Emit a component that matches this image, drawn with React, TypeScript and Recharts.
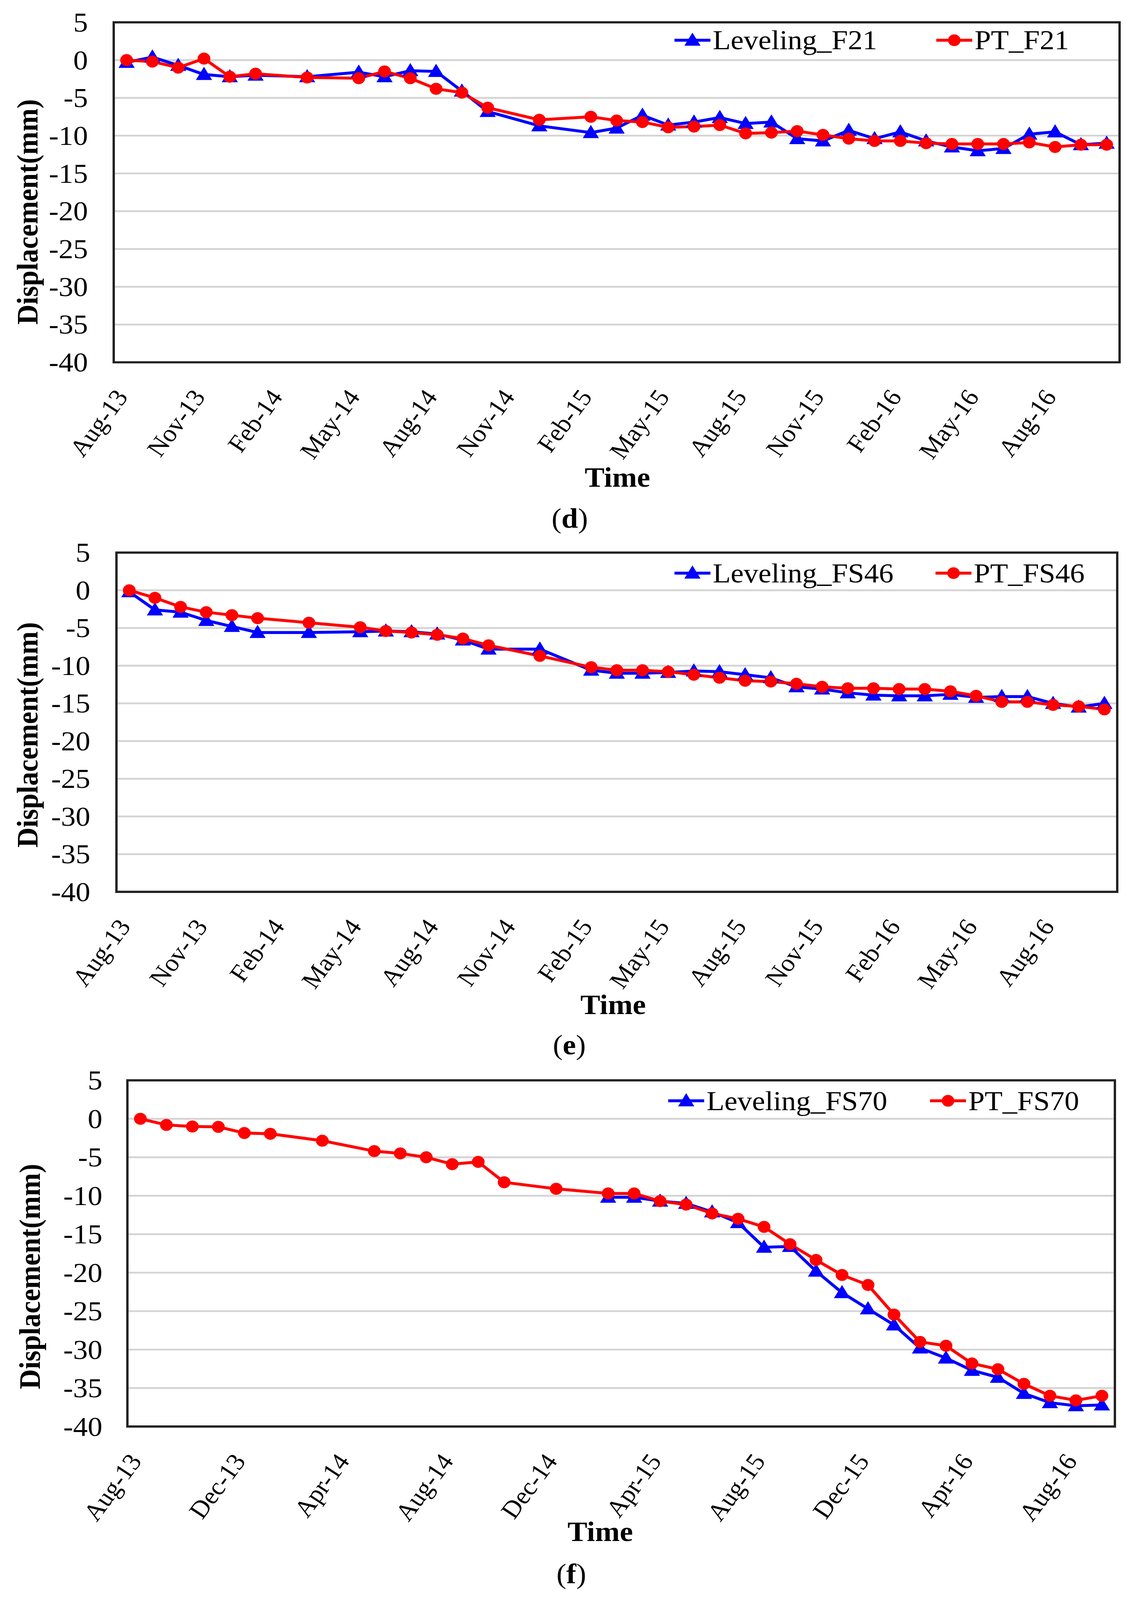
import React from "react";
import { LineChart, Line, XAxis, YAxis, CartesianGrid, ReferenceArea, Legend } from "recharts";

const FONT = '"Liberation Serif", "Times New Roman", Times, serif';
const BLUE = "#0000ff";
const RED = "#ff0000";
const W = 2884;
const H = 4372;
// the browser viewport is only 4096 px tall, so the whole figure is squeezed to fit it
const VIEW_H = 4096;
const SY = VIEW_H / H;

// month index on the date axis, 0 = Aug-13
const monthsDE = [0, 1, 2, 3, 4, 5, 7, 9, 10, 11, 12, 13, 14, 16, 18, 19, 20, 21, 22, 23, 24, 25, 26, 27, 28, 29, 30, 31, 32, 33, 34, 35, 36, 37, 38];
const monthsF = [0, 1, 2, 3, 4, 5, 7, 9, 10, 11, 12, 13, 14, 16, 18, 19, 20, 21, 22, 23, 24, 25, 26, 27, 28, 29, 30, 31, 32, 33, 34, 35, 36, 37];

const levelingF21 = [-0.3, 0.4, -0.7, -1.9, -2.2, -2.0, -2.2, -1.6, -2.2, -1.4, -1.5, -4.1, -6.8, -8.7, -9.6, -9.0, -7.3, -8.6, -8.2, -7.6, -8.4, -8.2, -10.4, -10.7, -9.3, -10.4, -9.5, -10.7, -11.5, -12.0, -11.7, -9.8, -9.5, -11.2, -11.0];
const ptF21 = [0, -0.2, -1.0, 0.2, -2.2, -1.8, -2.3, -2.4, -1.5, -2.4, -3.8, -4.3, -6.3, -7.9, -7.5, -8.0, -8.2, -8.9, -8.8, -8.6, -9.7, -9.6, -9.4, -9.9, -10.4, -10.7, -10.7, -11.0, -11.1, -11.1, -11.1, -10.9, -11.5, -11.2, -11.2];

const levelingFS46 = [-0.2, -2.6, -2.9, -4.0, -4.8, -5.6, -5.6, -5.5, -5.4, -5.5, -5.8, -6.6, -7.8, -7.8, -10.6, -11.0, -11.0, -10.9, -10.7, -10.8, -11.2, -11.6, -12.8, -13.1, -13.6, -13.9, -14.0, -14.0, -13.8, -14.2, -14.1, -14.1, -15.0, -15.5, -15.0];
const ptFS46 = [0, -1.0, -2.2, -2.9, -3.3, -3.7, -4.3, -4.9, -5.4, -5.6, -5.9, -6.4, -7.3, -8.7, -10.2, -10.6, -10.6, -10.8, -11.2, -11.6, -12.0, -12.1, -12.4, -12.8, -13.0, -13.0, -13.1, -13.1, -13.4, -14.0, -14.8, -14.8, -15.2, -15.4, -15.8];

const levelingFS70 = [null, null, null, null, null, null, null, null, null, null, null, null, null, null, -10.2, -10.2, -10.7, -11.0, -12.1, -13.5, -16.7, -16.6, -19.8, -22.6, -24.7, -26.8, -29.8, -31.1, -32.7, -33.6, -35.7, -36.9, -37.3, -37.2];
const ptFS70 = [0, -0.8, -1.0, -1.05, -1.85, -1.95, -2.85, -4.2, -4.5, -5.0, -5.9, -5.6, -8.25, -9.1, -9.7, -9.7, -10.7, -11.15, -12.3, -13.0, -14.05, -16.3, -18.35, -20.3, -21.6, -25.45, -29.0, -29.5, -31.8, -32.55, -34.45, -36.0, -36.6, -36.0];

const xTicksDE = [0, 3, 6, 9, 12, 15, 18, 21, 24, 27, 30, 33, 36];
const xLabelsDE = ["Aug-13", "Nov-13", "Feb-14", "May-14", "Aug-14", "Nov-14", "Feb-15", "May-15", "Aug-15", "Nov-15", "Feb-16", "May-16", "Aug-16"];
const xTicksF = [0, 4, 8, 12, 16, 20, 24, 28, 32, 36];
const xLabelsF = ["Aug-13", "Dec-13", "Apr-14", "Aug-14", "Dec-14", "Apr-15", "Aug-15", "Dec-15", "Apr-16", "Aug-16"];

const yTicks = [5, 0, -5, -10, -15, -20, -25, -30, -35, -40];

const toRows = (months: number[], lev: (number | null)[], pt: number[]) =>
  months.map((m, i) => ({ m, lev: lev[i], pt: pt[i] }));

function triangle(cx: number, cy: number, key: string) {
  return (
    <polygon
      key={key}
      points={`${cx},${cy - 19} ${cx - 19},${cy + 14} ${cx + 19},${cy + 14}`}
      fill={BLUE}
      stroke={BLUE}
      strokeWidth={2}
    />
  );
}

const renderTriangle = (p: any) => {
  if (p.value == null || p.cy == null || isNaN(p.cy)) return <g key={`t${p.index}`} />;
  return triangle(p.cx, p.cy, `t${p.index}`);
};

type Box = { left: number; right: number; top: number; bottom: number };

interface PanelProps {
  top: number;
  height: number;
  box: Box;
  rows: { m: number; lev: number | null; pt: number }[];
  xMax: number;
  xTicks: number[];
  xLabels: string[];
  names: [string, string];
  legendX: [number, number];
  legendY: number;
  yTickRight: number;
  yTitle: { x: number; y: number };
  time: { x: number; y: number };
  tag: { x: number; y: number; letter: string };
}

function Panel({ top, height, box, rows, xMax, xTicks, xLabels, names, legendX, legendY, yTickRight, yTitle, time, tag }: PanelProps) {
  const plotBottom = box.bottom - top;

  const legendContent = () => (
    <div style={{ position: "relative", height: 0 }}>
      {names.map((name, i) => (
        <div
          key={name}
          style={{ position: "absolute", left: legendX[i], top: legendY - top - 45, height: 90, display: "flex", alignItems: "center", whiteSpace: "nowrap" }}
        >
          <svg width={92} height={44}>
            <line x1={0} x2={92} y1={22} y2={22} stroke={i === 0 ? BLUE : RED} strokeWidth={8} />
            {i === 0 ? triangle(46, 22, "lg") : <circle cx={46} cy={22} r={16} fill={RED} />}
          </svg>
          <span style={{ fontFamily: FONT, fontSize: 75, color: "#000", marginLeft: 6, lineHeight: "90px" }}>{name}</span>
        </div>
      ))}
    </div>
  );

  return (
    <div style={{ position: "absolute", left: 0, top, width: W, height }}>
      <LineChart
        width={W}
        height={height}
        data={rows}
        margin={{ top: box.top - top, right: W - box.right, bottom: height - plotBottom - 1, left: 0 }}
      >
        <CartesianGrid vertical={false} stroke="#d4d4d4" strokeWidth={5} />
        <XAxis
          type="number"
          dataKey="m"
          domain={[-0.5, xMax + 0.5]}
          ticks={xTicks}
          interval={0}
          height={1}
          axisLine={false}
          tickLine={false}
          tick={(p: any) => {
            const ax = p.x - 13;
            const ay = plotBottom + 82;
            return (
              <text
                x={ax}
                y={ay}
                textAnchor="end"
                dominantBaseline="central"
                transform={`rotate(-55, ${ax}, ${ay})`}
                fontFamily={FONT}
                fontSize={67}
                fill="#000"
              >
                {xLabels[xTicks.indexOf(p.payload.value)]}
              </text>
            );
          }}
          label={() => (
            <g>
              <text x={time.x} y={time.y - top} textAnchor="middle" dominantBaseline="central" fontFamily={FONT} fontWeight="bold" fontSize={76} fill="#000">
                Time
              </text>
              <text x={tag.x} y={tag.y - top} textAnchor="middle" dominantBaseline="central" fontFamily={FONT} fontSize={76} fill="#000">
                (<tspan fontWeight="bold">{tag.letter}</tspan>)
              </text>
            </g>
          )}
        />
        <YAxis
          type="number"
          domain={[-40, 5]}
          ticks={yTicks}
          interval={0}
          width={box.left}
          axisLine={false}
          tickLine={false}
          tick={(p: any) => (
            <text x={yTickRight} y={p.y} textAnchor="end" dominantBaseline="central" fontFamily={FONT} fontSize={75} fill="#000">
              {p.payload.value}
            </text>
          )}
          label={() => (
            <text
              x={yTitle.x}
              y={yTitle.y - top}
              transform={`rotate(-90, ${yTitle.x}, ${yTitle.y - top})`}
              textAnchor="middle"
              dominantBaseline="central"
              fontFamily={FONT}
              fontWeight="bold"
              fontSize={76}
              fill="#000"
            >
              Displacement(mm)
            </text>
          )}
        />
        <ReferenceArea x1={-0.5} x2={xMax + 0.5} y1={-40} y2={5} fill="none" stroke="#222" strokeWidth={6} ifOverflow="visible" />
        <Legend content={legendContent} wrapperStyle={{ left: 0, top: 0, width: W, height: 0 }} />
        <Line
          type="linear"
          dataKey="lev"
          name={names[0]}
          stroke={BLUE}
          strokeWidth={8}
          dot={renderTriangle}
          activeDot={false}
          isAnimationActive={false}
        />
        <Line
          type="linear"
          dataKey="pt"
          name={names[1]}
          stroke={RED}
          strokeWidth={8}
          dot={{ r: 16, fill: RED, stroke: RED, strokeWidth: 1 }}
          activeDot={false}
          isAnimationActive={false}
        />
      </LineChart>
    </div>
  );
}

export default function App() {
  return (
    <div style={{ position: "relative", width: W, height: VIEW_H, background: "#fff", overflow: "hidden" }}>
      <style>{`body{margin:0;background:#fff}`}</style>
      <div style={{ position: "absolute", left: 0, top: 0, width: W, height: H, transform: `scale(1, ${SY})`, transformOrigin: "0 0" }}>
        <Panel
          top={0}
          height={1470}
          box={{ left: 291, right: 2865, top: 61, bottom: 990 }}
          rows={toRows(monthsDE, levelingF21, ptF21)}
          xMax={38}
          xTicks={xTicksDE}
          xLabels={xLabelsDE}
          names={["Leveling_F21", "PT_F21"]}
          legendX={[1726, 2396]}
          legendY={110}
          yTickRight={225}
          yTitle={{ x: 70, y: 579 }}
          time={{ x: 1580, y: 1304 }}
          tag={{ x: 1458, y: 1416, letter: "d" }}
        />
        <Panel
          top={1470}
          height={1440}
          box={{ left: 298, right: 2859, top: 1510, bottom: 2437 }}
          rows={toRows(monthsDE, levelingFS46, ptFS46)}
          xMax={38}
          xTicks={xTicksDE}
          xLabels={xLabelsDE}
          names={["Leveling_FS46", "PT_FS46"]}
          legendX={[1726, 2394]}
          legendY={1566}
          yTickRight={231}
          yTitle={{ x: 70, y: 2008 }}
          time={{ x: 1569, y: 2745 }}
          tag={{ x: 1457, y: 2855, letter: "e" }}
        />
        <Panel
          top={2910}
          height={1462}
          box={{ left: 326, right: 2853, top: 2952, bottom: 3898 }}
          rows={toRows(monthsF, levelingFS70, ptFS70)}
          xMax={37}
          xTicks={xTicksF}
          xLabels={xLabelsF}
          names={["Leveling_FS70", "PT_FS70"]}
          legendX={[1710, 2380]}
          legendY={3008}
          yTickRight={262}
          yTitle={{ x: 76, y: 3488 }}
          time={{ x: 1536, y: 4185 }}
          tag={{ x: 1462, y: 4300, letter: "f" }}
        />
      </div>
    </div>
  );
}
